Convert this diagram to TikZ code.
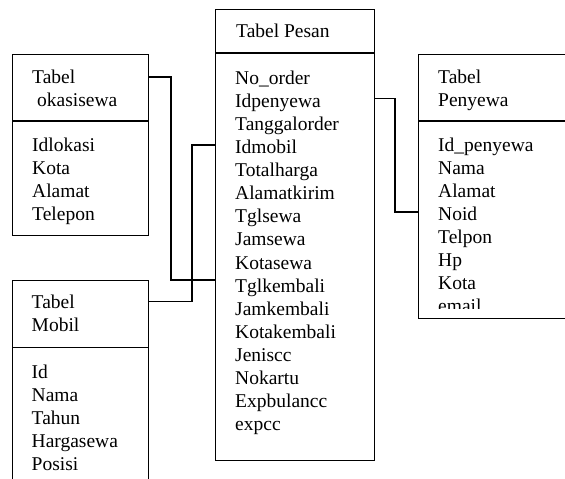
\documentclass[tikz,border=0pt]{standalone}
\usepackage{fontspec}
\setmainfont{Liberation Serif}
\begin{document}
\begin{tikzpicture}[x=1pt,y=-1pt,
  box/.style={draw, anchor=north west, inner sep=0pt, line width=1.3pt},
  txt/.style={anchor=base west, inner sep=0pt, font=\fontsize{19.5}{23}\selectfont},
  link/.style={line width=1.3pt},
  divider/.style={line width=1.3pt}]
\useasboundingbox (0,0) rectangle (565,479);
\clip (0,0) rectangle (565,479);

% boxes
\node[box, minimum width=158.5pt, minimum height=451pt] (pesan) at (215,9) {};
\node[box, minimum width=135.5pt, minimum height=181pt] (lok) at (12,54) {};
\node[box, minimum width=135.5pt, minimum height=230pt] (mob) at (12,280) {};
\node[box, minimum width=160pt, minimum height=264pt] (pen) at (418,54) {};

% header dividers
\draw[divider] (215,53) -- (373.5,53);
\draw[divider] (12,121) -- (147.5,121);
\draw[divider] (12,347.7) -- (147.5,347.7);
\draw[divider] (418,121) -- (578,121);

% connectors
\coordinate (k1) at (171,77);  \coordinate (k1b) at (171,280);
\draw[link] (lok.east |- k1) -- (k1) -- (k1b) -- (pesan.west |- k1b);
\coordinate (k2) at (192,301.7); \coordinate (k2b) at (192,145);
\draw[link] (mob.east |- k2) -- (k2) -- (k2b) -- (pesan.west |- k2b);
\coordinate (k3) at (395,98.5); \coordinate (k3b) at (395,212);
\draw[link] (pesan.east |- k3) -- (k3) -- (k3b) -- (pen.west |- k3b);

% Tabel Pesan
\node[txt] (pesh) at (236,37.5) {Tabel Pesan};
\foreach [count=\i] \t in {No\_order,Idpenyewa,Tanggalorder,Idmobil,Totalharga,Alamatkirim,Tglsewa,Jamsewa,Kotasewa,Tglkembali,Jamkembali,Kotakembali,Jeniscc,Nokartu,Expbulancc,expcc}
  \node[txt] (pes\i) at (235,{84.5+23.07*(\i-1)}) {\t};

% Tabel okasisewa
\node[txt] (lokh1) at (32,83.3) {Tabel};
\node[txt] (lokh2) at (37,106.3) {okasisewa};
\foreach [count=\i] \t in {Idlokasi,Kota,Alamat,Telepon}
  \node[txt] (lok\i) at (32,{151.7+23*(\i-1)}) {\t};

% Tabel Mobil
\node[txt] (mobh1) at (31.5,308.3) {Tabel};
\node[txt] (mobh2) at (31.5,331.5) {Mobil};
\foreach [count=\i] \t in {Id,Nama,Tahun,Hargasewa,Posisi}
  \node[txt] (mob\i) at (31.5,{378.3+23*(\i-1)}) {\t};

% Tabel Penyewa
\node[txt] (penh1) at (438,83.3) {Tabel};
\node[txt] (penh2) at (438,106.3) {Penyewa};
\begin{scope}
\clip (418,121) rectangle (578,308.5);
\foreach [count=\i] \t in {Id\_penyewa,Nama,Alamat,Noid,Telpon,Hp,Kota,email}
  \node[txt] (pen\i) at (438,{151.7+23*(\i-1)}) {\t};
\end{scope}
\end{tikzpicture}
\end{document}
